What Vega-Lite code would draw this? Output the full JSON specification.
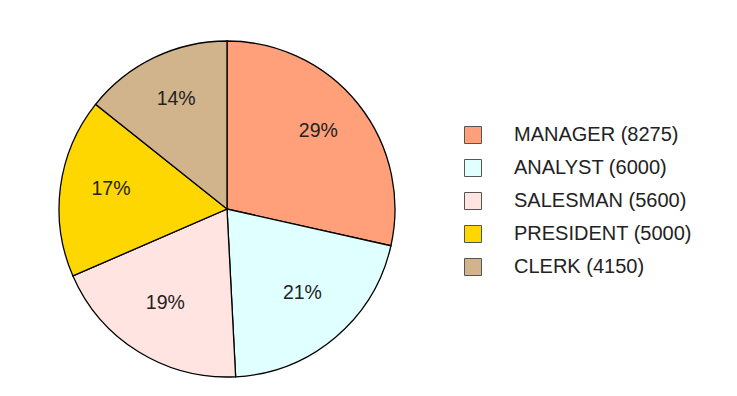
{
  "$schema": "https://vega.github.io/schema/vega-lite/v6.json",
  "width": 336,
  "height": 336,
  "autosize": {"type": "none"},
  "padding": {"left": 59, "top": 41, "right": 342, "bottom": 19},
  "background": "white",
  "view": {"stroke": null},
  "data": {"values": [
    {"job": "MANAGER (8275)", "sal": 8275, "pct": "29%", "ord": 1},
    {"job": "ANALYST (6000)", "sal": 6000, "pct": "21%", "ord": 2},
    {"job": "SALESMAN (5600)", "sal": 5600, "pct": "19%", "ord": 3},
    {"job": "PRESIDENT (5000)", "sal": 5000, "pct": "17%", "ord": 4},
    {"job": "CLERK (4150)", "sal": 4150, "pct": "14%", "ord": 5}
  ]},
  "encoding": {
    "theta": {"field": "sal", "type": "quantitative", "stack": true},
    "order": {"field": "ord", "type": "quantitative"}
  },
  "layer": [
    {
      "mark": {"type": "arc", "outerRadius": 168, "stroke": "black", "strokeWidth": 1.3},
      "encoding": {
        "color": {
          "field": "job", "type": "nominal",
          "scale": {
            "domain": ["MANAGER (8275)", "ANALYST (6000)", "SALESMAN (5600)", "PRESIDENT (5000)", "CLERK (4150)"],
            "range": ["#FFA07A", "#E0FFFF", "#FFE4E1", "#FFD700", "#D2B48C"]
          },
          "legend": {
            "title": null,
            "orient": "none",
            "legendX": 404,
            "legendY": 84,
            "padding": 0,
            "symbolType": "square",
            "symbolSize": 289,
            "symbolStrokeColor": "#555",
            "symbolStrokeWidth": 1,
            "symbolOpacity": 1,
            "labelFontSize": 20,
            "labelFont": "Liberation Sans",
            "labelColor": "#222",
            "labelOffset": 31,
            "rowPadding": 11,
            "labelLimit": 300
          }
        }
      }
    },
    {
      "mark": {"type": "text", "radius": 117, "dy": -5, "fontSize": 19.5, "font": "Liberation Sans", "fill": "#222"},
      "encoding": {
        "text": {"field": "pct", "type": "nominal"}
      }
    }
  ]
}
